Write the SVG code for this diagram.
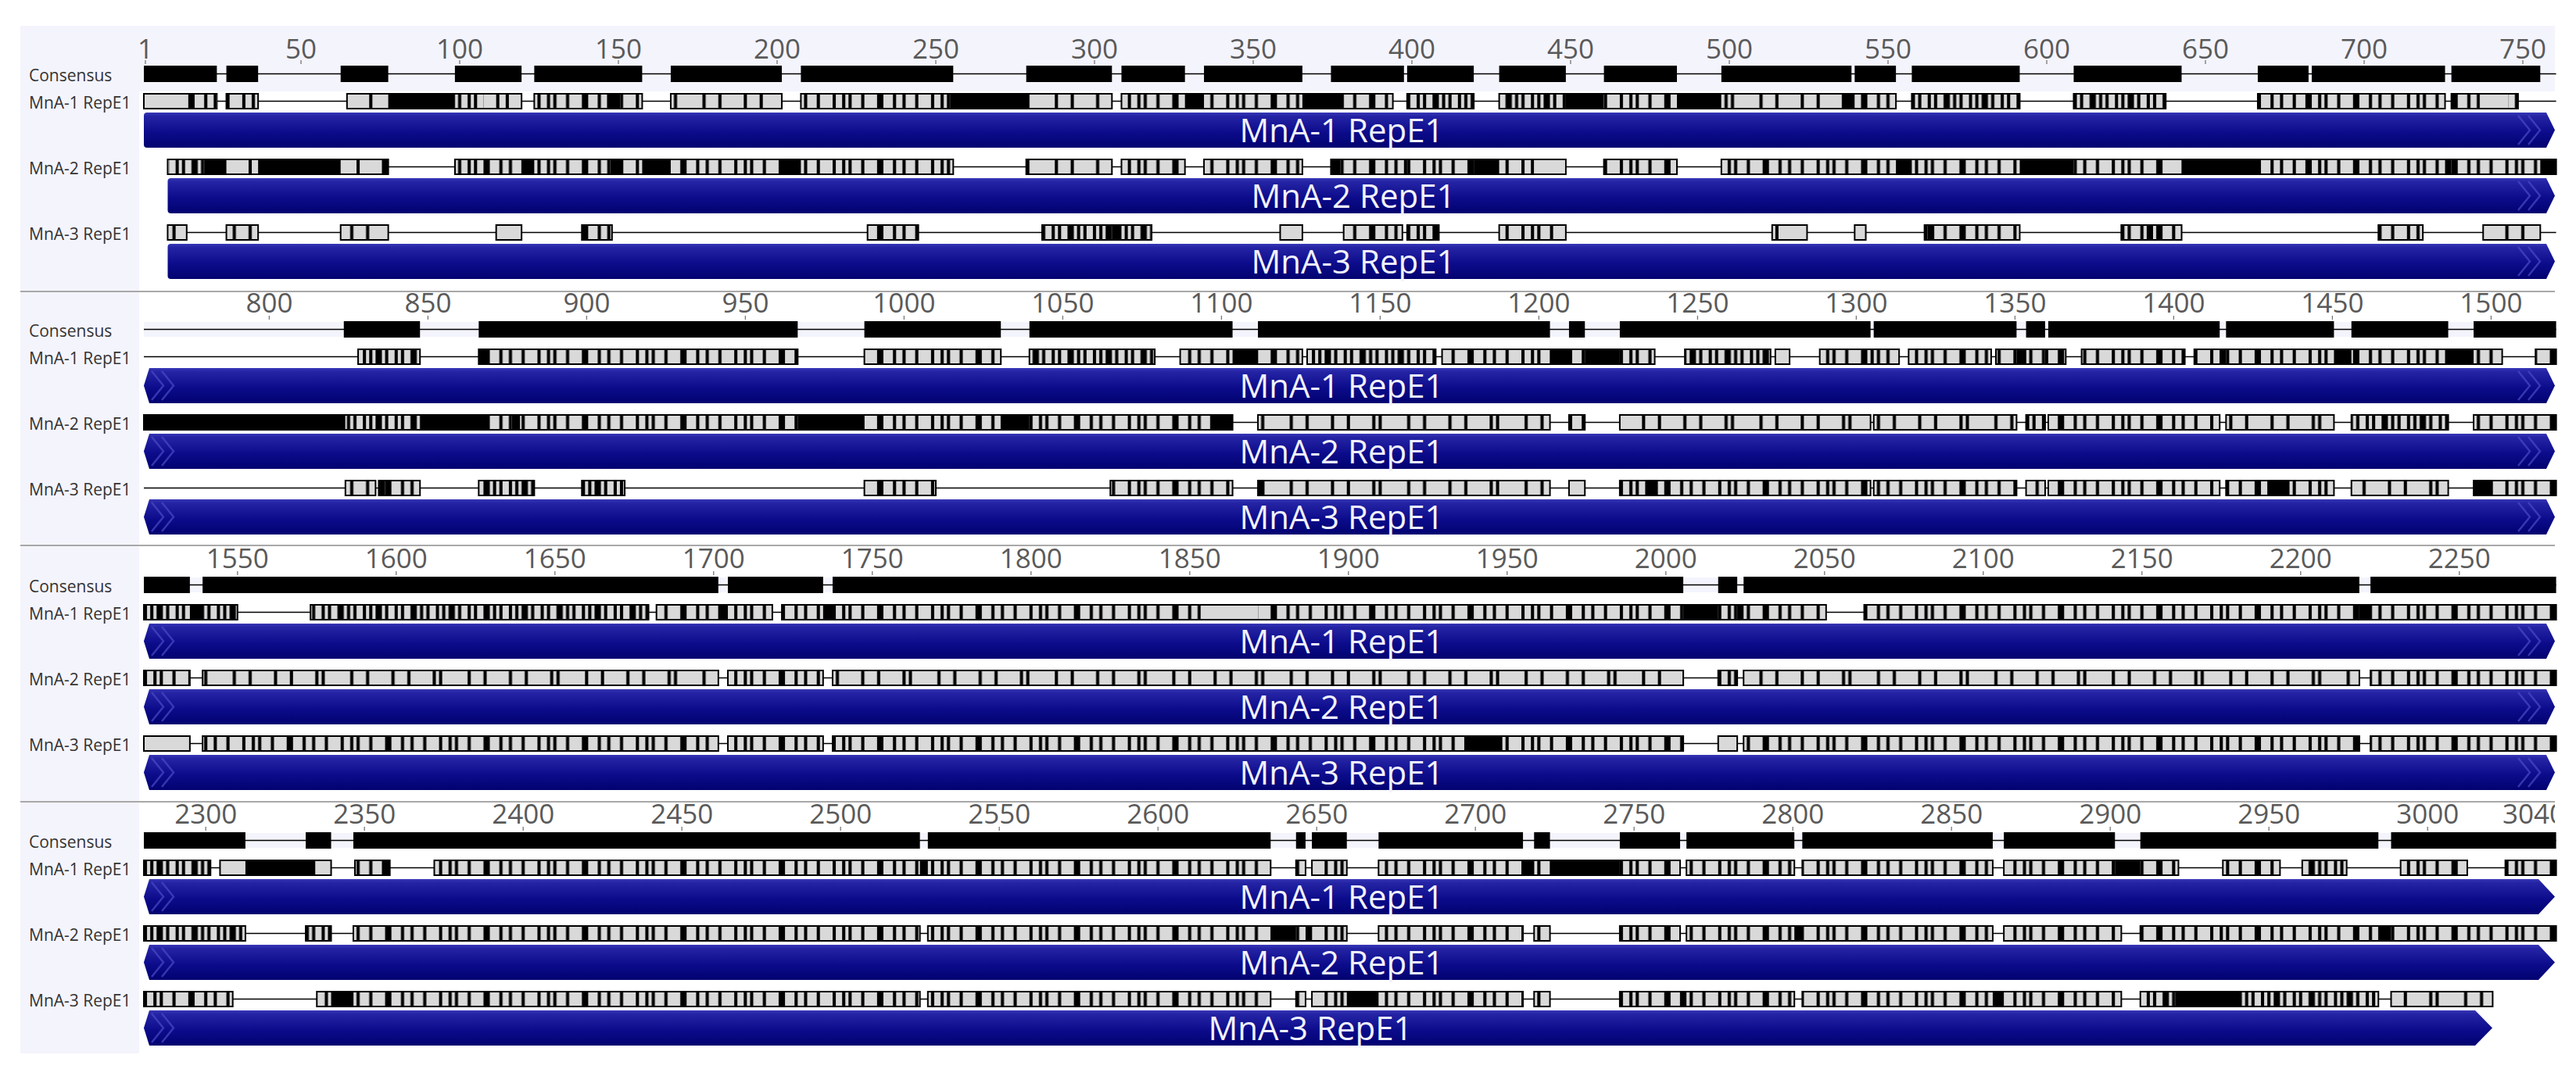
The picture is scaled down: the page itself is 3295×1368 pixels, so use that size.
<svg xmlns="http://www.w3.org/2000/svg" width="3295" height="1368" viewBox="0 0 3295 1368">
<style>
.bx{stroke:#000;stroke-width:2;vector-effect:non-scaling-stroke}
.ln{stroke:#000;stroke-width:1.6;vector-effect:non-scaling-stroke;fill:none}
.k{fill:#000}
.gr{fill:#d9d9d9}
.pl{fill:url(#pl)}
.pm{fill:url(#pm)}
.pd{fill:url(#pd)}
.lab{font-family:"Open Sans","Liberation Sans",sans-serif;font-size:21px;fill:#333}
.num{font-family:"Open Sans","Liberation Sans",sans-serif;font-size:35px;fill:#5a5a5a;text-anchor:middle}
.bl{font-family:"Open Sans","Liberation Sans",sans-serif;font-size:42px;fill:#f2f2ff;text-anchor:middle}
.tk{stroke:#777;stroke-width:1.3}
.chev{fill:none;stroke:#4a4ac8;stroke-width:2.5;opacity:.7}
.sep{stroke:#a8a8a8;stroke-width:2}
.lav{fill:#f4f4fd}
.bar{fill:url(#blue)}
</style>
<defs>
<linearGradient id="blue" x1="0" y1="0" x2="0" y2="1">
<stop offset="0" stop-color="#3838b8"/>
<stop offset="0.1" stop-color="#2424a4"/>
<stop offset="0.55" stop-color="#0c0c8c"/>
<stop offset="1" stop-color="#020270"/>
</linearGradient>
<pattern id="pl" patternUnits="userSpaceOnUse" width="37" height="40">
<rect width="37" height="40" fill="#d9d9d9"/>
<path d="M4 0h1v40h-1zM9 0h1v40h-1zM17 0h1v40h-1zM19 0h1v40h-1zM28 0h1v40h-1zM33 0h1v40h-1z" fill="#000"/>
</pattern>
<pattern id="pm" patternUnits="userSpaceOnUse" width="31" height="40">
<rect width="31" height="40" fill="#d9d9d9"/>
<path d="M0 0h1v40h-1zM3 0h1v40h-1zM5 0h1v40h-1zM9 0h1v40h-1zM14 0h2v40h-2zM19 0h1v40h-1zM22 0h1v40h-1zM26 0h1v40h-1z" fill="#000"/>
</pattern>
<pattern id="pd" patternUnits="userSpaceOnUse" width="23" height="40">
<rect width="23" height="40" fill="#d9d9d9"/>
<path d="M0 0h1v40h-1zM2 0h1v40h-1zM4 0h2v40h-2zM7 0h1v40h-1zM10 0h1v40h-1zM12 0h1v40h-1zM15 0h2v40h-2zM18 0h1v40h-1zM20 0h1v40h-1z" fill="#000"/>
</pattern>
<path id="barA" class="bar" d="M188 0H3257L3268 22.5L3257 45H188Q184 45 184 41V4Q184 0 188 0Z"/>
<path id="barB" class="bar" d="M218.5 0H3257L3268 22.5L3257 45H218.5Q214.5 45 214.5 41V4Q214.5 0 218.5 0Z"/>
<path id="barM" class="bar" d="M191 0H3257L3268 22.5L3257 45H191L184 22.5Z"/>
<path id="barE" class="bar" d="M191 0H3247L3268 22.5L3247 45H191L184 22.5Z"/>
<path id="barE3" class="bar" d="M191 0H3166L3188 22.5L3166 45H191L184 22.5Z"/>
<path id="chR" class="chev" d="M3221 4L3236 22.5L3221 41M3234 4L3249 22.5L3234 41"/>
<path id="chL" class="chev" d="M194 4L209 22.5L194 41M207 4L222 22.5L207 41"/>
<clipPath id="clipR"><rect x="0" y="0" width="3268" height="1368"/></clipPath>
</defs>
<rect width="3295" height="1368" fill="#fff"/>
<rect class="lav" x="26" y="33" width="152" height="1315"/>
<rect class="lav" x="26" y="33" width="3242" height="84"/>
<rect class="lav" x="184" y="412" width="3084" height="19"/>
<rect class="lav" x="184" y="739" width="3084" height="19"/>
<rect class="lav" x="184" y="1066" width="3084" height="19"/>
<g id="separators">
<line class="sep" x1="26" y1="373" x2="3268" y2="373"/>
<line class="sep" x1="26" y1="698" x2="3268" y2="698"/>
<line class="sep" x1="26" y1="1026" x2="3268" y2="1026"/>
</g>
<g id="labels">
<text class="lab" x="37" y="104">Consensus</text>
<text class="lab" x="37" y="139">MnA-1 RepE1</text>
<text class="lab" x="37" y="223">MnA-2 RepE1</text>
<text class="lab" x="37" y="307">MnA-3 RepE1</text>
<text class="lab" x="37" y="431">Consensus</text>
<text class="lab" x="37" y="466">MnA-1 RepE1</text>
<text class="lab" x="37" y="550">MnA-2 RepE1</text>
<text class="lab" x="37" y="634">MnA-3 RepE1</text>
<text class="lab" x="37" y="758">Consensus</text>
<text class="lab" x="37" y="793">MnA-1 RepE1</text>
<text class="lab" x="37" y="877">MnA-2 RepE1</text>
<text class="lab" x="37" y="961">MnA-3 RepE1</text>
<text class="lab" x="37" y="1085">Consensus</text>
<text class="lab" x="37" y="1120">MnA-1 RepE1</text>
<text class="lab" x="37" y="1204">MnA-2 RepE1</text>
<text class="lab" x="37" y="1288">MnA-3 RepE1</text>
</g>
<g id="ruler1">
<text class="num" x="186" y="75">1</text><text class="num" x="385" y="75">50</text><text class="num" x="588" y="75">100</text><text class="num" x="791" y="75">150</text><text class="num" x="994" y="75">200</text><text class="num" x="1197" y="75">250</text><text class="num" x="1400" y="75">300</text><text class="num" x="1603" y="75">350</text><text class="num" x="1806" y="75">400</text><text class="num" x="2009" y="75">450</text><text class="num" x="2212" y="75">500</text><text class="num" x="2415" y="75">550</text><text class="num" x="2618" y="75">600</text><text class="num" x="2821" y="75">650</text><text class="num" x="3024" y="75">700</text><text class="num" x="3227" y="75">750</text>
<path class="tk" d="M186 77v5M385 77v5M588 77v5M791 77v5M994 77v5M1197 77v5M1400 77v5M1603 77v5M1806 77v5M2009 77v5M2212 77v5M2415 77v5M2618 77v5M2821 77v5M3024 77v5M3227 77v5"/>
</g>
<g id="ruler2">
<text class="num" x="344.4" y="400">800</text><text class="num" x="547.4" y="400">850</text><text class="num" x="750.4" y="400">900</text><text class="num" x="953.4" y="400">950</text><text class="num" x="1156.4" y="400">1000</text><text class="num" x="1359.4" y="400">1050</text><text class="num" x="1562.4" y="400">1100</text><text class="num" x="1765.4" y="400">1150</text><text class="num" x="1968.4" y="400">1200</text><text class="num" x="2171.4" y="400">1250</text><text class="num" x="2374.4" y="400">1300</text><text class="num" x="2577.4" y="400">1350</text><text class="num" x="2780.4" y="400">1400</text><text class="num" x="2983.4" y="400">1450</text><text class="num" x="3186.4" y="400">1500</text>
<path class="tk" d="M344.4 404v5M547.4 404v5M750.4 404v5M953.4 404v5M1156.4 404v5M1359.4 404v5M1562.4 404v5M1765.4 404v5M1968.4 404v5M2171.4 404v5M2374.4 404v5M2577.4 404v5M2780.4 404v5M2983.4 404v5M3186.4 404v5"/>
</g>
<g id="ruler3">
<text class="num" x="303.8" y="727">1550</text><text class="num" x="506.8" y="727">1600</text><text class="num" x="709.8" y="727">1650</text><text class="num" x="912.8" y="727">1700</text><text class="num" x="1115.8" y="727">1750</text><text class="num" x="1318.8" y="727">1800</text><text class="num" x="1521.8" y="727">1850</text><text class="num" x="1724.8" y="727">1900</text><text class="num" x="1927.8" y="727">1950</text><text class="num" x="2130.8" y="727">2000</text><text class="num" x="2333.8" y="727">2050</text><text class="num" x="2536.8" y="727">2100</text><text class="num" x="2739.8" y="727">2150</text><text class="num" x="2942.8" y="727">2200</text><text class="num" x="3145.8" y="727">2250</text>
<path class="tk" d="M303.8 731v5M506.8 731v5M709.8 731v5M912.8 731v5M1115.8 731v5M1318.8 731v5M1521.8 731v5M1724.8 731v5M1927.8 731v5M2130.8 731v5M2333.8 731v5M2536.8 731v5M2739.8 731v5M2942.8 731v5M3145.8 731v5"/>
</g>
<g id="ruler4">
<text class="num" x="263.2" y="1054">2300</text><text class="num" x="466.2" y="1054">2350</text><text class="num" x="669.2" y="1054">2400</text><text class="num" x="872.2" y="1054">2450</text><text class="num" x="1075.2" y="1054">2500</text><text class="num" x="1278.2" y="1054">2550</text><text class="num" x="1481.2" y="1054">2600</text><text class="num" x="1684.2" y="1054">2650</text><text class="num" x="1887.2" y="1054">2700</text><text class="num" x="2090.2" y="1054">2750</text><text class="num" x="2293.2" y="1054">2800</text><text class="num" x="2496.2" y="1054">2850</text><text class="num" x="2699.2" y="1054">2900</text><text class="num" x="2902.2" y="1054">2950</text><text class="num" x="3105.2" y="1054">3000</text>
<text class="num" x="3201" y="1054" style="text-anchor:start" clip-path="url(#clipR)">3040</text>
<path class="tk" d="M263.2 1058v5M466.2 1058v5M669.2 1058v5M872.2 1058v5M1075.2 1058v5M1278.2 1058v5M1481.2 1058v5M1684.2 1058v5M1887.2 1058v5M2090.2 1058v5M2293.2 1058v5M2496.2 1058v5M2699.2 1058v5M2902.2 1058v5M3105.2 1058v5"/>
</g>

<g id="s1-consensus" transform="translate(184,84) scale(4.06,1)">
<line class="ln" x1="0" y1="10.5" x2="760" y2="10.5"/>
<path class="k" d="M0 0H23V21H0ZM26 0H36V21H26ZM62 0H77V21H62ZM98 0H119V21H98ZM123 0H157V21H123ZM166 0H201V21H166ZM207 0H255V21H207ZM278 0H305V21H278ZM308 0H328V21H308ZM334 0H365V21H334ZM374 0H397V21H374ZM398 0H419V21H398ZM427 0H448V21H427ZM460 0H483V21H460ZM497 0H538V21H497ZM539 0H552V21H539ZM557 0H591V21H557ZM608 0H642V21H608ZM666 0H682V21H666ZM683 0H725V21H683ZM727 0H755V21H727Z"/>
</g>
<g id="s1-mna1" transform="translate(184,119) scale(4.06,1)">
<line class="ln" x1="0" y1="10.5" x2="760" y2="10.5"/>
<rect class="bx gr" x="0" y="1" width="23" height="19"/><rect class="pm" x="11" y="2" width="12" height="17"/>
<rect class="bx pm" x="26" y="1" width="10" height="19"/>
<rect class="bx gr" x="64" y="1" width="55" height="19"/><rect class="k" x="71" y="0" width="1" height="21"/><rect class="k" x="77" y="0" width="21" height="21"/><rect class="pd" x="98" y="2" width="9" height="17"/><rect class="k" x="111" y="0" width="1" height="21"/><rect class="k" x="114" y="0" width="1" height="21"/>
<rect class="bx pm" x="123" y="1" width="34" height="19"/><rect class="k" x="146" y="0" width="4" height="21"/>
<rect class="bx pl" x="166" y="1" width="35" height="19"/>
<rect class="bx pm" x="207" y="1" width="98" height="19"/><rect class="k" x="254" y="0" width="25" height="21"/><rect class="pl" x="279" y="2" width="25.7" height="17"/>
<rect class="bx pm" x="308" y="1" width="85.5" height="19"/><rect class="k" x="328" y="0" width="6" height="21"/><rect class="k" x="365" y="0" width="13" height="21"/>
<rect class="bx pd" x="398" y="1" width="21" height="19"/>
<rect class="bx pd" x="427" y="1" width="125" height="19"/><rect class="k" x="448" y="0" width="12" height="21"/><rect class="pm" x="460" y="2" width="23" height="17"/><rect class="k" x="483" y="0" width="14" height="21"/><rect class="pl" x="497" y="2" width="38" height="17"/><rect class="k" x="535" y="0" width="4" height="21"/><rect class="pm" x="539" y="2" width="12.7" height="17"/>
<rect class="bx pd" x="557" y="1" width="34" height="19"/>
<rect class="bx pd" x="608" y="1" width="29" height="19"/>
<rect class="bx pm" x="666" y="1" width="59" height="19"/><rect class="k" x="681" y="0" width="2" height="21"/>
<rect class="bx pm" x="727" y="1" width="21" height="19"/><rect class="gr" x="736" y="2" width="9" height="17"/>
</g>
<g id="s1-mna2" transform="translate(184,203) scale(4.06,1)">
<line class="ln" x1="7.5" y1="10.5" x2="760" y2="10.5"/>
<rect class="bx gr" x="7.5" y="1" width="69.5" height="19"/><rect class="pd" x="8" y="2" width="11" height="17"/><rect class="k" x="19" y="0" width="7" height="21"/><rect class="k" x="33" y="0" width="1" height="21"/><rect class="k" x="36" y="0" width="26" height="21"/><rect class="k" x="67" y="0" width="1" height="21"/><rect class="k" x="75" y="0" width="2" height="21"/>
<rect class="bx pm" x="98" y="1" width="157" height="19"/><rect class="pd" x="98.3" y="2" width="8.7" height="17"/><rect class="k" x="119" y="0" width="4" height="21"/><rect class="k" x="147" y="0" width="4" height="21"/><rect class="k" x="157" y="0" width="9" height="21"/><rect class="k" x="201" y="0" width="6" height="21"/>
<rect class="bx pl" x="278" y="1" width="27" height="19"/>
<rect class="bx pm" x="308" y="1" width="20" height="19"/>
<rect class="bx pm" x="334" y="1" width="31" height="19"/>
<rect class="bx pm" x="374" y="1" width="74" height="19"/><rect class="k" x="374" y="0" width="3" height="21"/><rect class="k" x="397" y="0" width="1" height="21"/><rect class="k" x="419" y="0" width="8" height="21"/><rect class="gr" x="438" y="2" width="9.7" height="17"/>
<rect class="bx pm" x="460" y="1" width="23" height="19"/>
<rect class="bx pm" x="497" y="1" width="263" height="19"/><rect class="k" x="552" y="0" width="5" height="21"/><rect class="k" x="591" y="0" width="17" height="21"/><rect class="gr" x="637" y="2" width="5" height="17"/><rect class="k" x="642" y="0" width="24" height="21"/><rect class="k" x="681" y="0" width="2" height="21"/><rect class="k" x="725" y="0" width="2" height="21"/><rect class="k" x="755" y="0" width="5" height="21"/>
</g>
<g id="s1-mna3" transform="translate(184,287) scale(4.06,1)">
<line class="ln" x1="7.5" y1="10.5" x2="760" y2="10.5"/>
<rect class="bx pl" x="7.5" y="1" width="6" height="19"/>
<rect class="bx pl" x="26" y="1" width="10" height="19"/>
<rect class="bx pl" x="62" y="1" width="15" height="19"/>
<rect class="bx gr" x="111" y="1" width="8" height="19"/>
<rect class="bx pm" x="138" y="1" width="9.5" height="19"/>
<rect class="bx pm" x="228" y="1" width="16" height="19"/>
<rect class="bx pd" x="283" y="1" width="34.5" height="19"/><rect class="k" x="305" y="0" width="3" height="21"/>
<rect class="bx gr" x="358" y="1" width="7" height="19"/>
<rect class="bx pm" x="378" y="1" width="18.5" height="19"/>
<rect class="bx pd" x="398" y="1" width="10" height="19"/>
<rect class="bx pm" x="427" y="1" width="21" height="19"/>
<rect class="bx gr" x="513" y="1" width="11" height="19"/><rect class="k" x="514" y="0" width="1" height="21"/>
<rect class="bx gr" x="539" y="1" width="3.5" height="19"/>
<rect class="bx pm" x="561" y="1" width="30" height="19"/><rect class="k" x="562" y="0" width="2" height="21"/>
<rect class="bx pm" x="623" y="1" width="19" height="19"/><rect class="k" x="631" y="0" width="2" height="21"/>
<rect class="bx pm" x="704" y="1" width="14" height="19"/>
<rect class="bx pl" x="737" y="1" width="18" height="19"/>
</g>

<g id="s2-consensus" transform="translate(184,411) scale(4.06,1)">
<line class="ln" x1="0" y1="10.5" x2="760" y2="10.5"/>
<path class="k" d="M63 0H87V21H63ZM105.5 0H206V21H105.5ZM227 0H270V21H227ZM279 0H343V21H279ZM351 0H443V21H351ZM449 0H454V21H449ZM465 0H544V21H465ZM545 0H590V21H545ZM593 0H599V21H593ZM600 0H654V21H600ZM656 0H690V21H656ZM695.5 0H726V21H695.5ZM734 0H760V21H734Z"/>
</g>
<g id="s2-mna1" transform="translate(184,446) scale(4.06,1)">
<line class="ln" x1="0" y1="10.5" x2="760" y2="10.5"/>
<rect class="bx pd" x="67.5" y="1" width="19.5" height="19"/>
<rect class="bx pm" x="105.5" y="1" width="100.5" height="19"/><rect class="k" x="105.5" y="0" width="2.5" height="21"/>
<rect class="bx pm" x="227" y="1" width="43" height="19"/>
<rect class="bx pd" x="279" y="1" width="39.5" height="19"/>
<rect class="bx pm" x="326.5" y="1" width="38.5" height="19"/><rect class="k" x="343" y="0" width="8" height="21"/>
<rect class="bx pd" x="366.5" y="1" width="40.5" height="19"/>
<rect class="bx pm" x="409" y="1" width="67" height="19"/><rect class="k" x="443" y="0" width="6" height="21"/><rect class="k" x="454" y="0" width="11" height="21"/>
<rect class="bx pd" x="485.5" y="1" width="27" height="19"/>
<rect class="bx gr" x="514" y="1" width="4.5" height="19"/>
<rect class="bx pm" x="528" y="1" width="25" height="19"/><rect class="k" x="544" y="0" width="1" height="21"/>
<rect class="bx pm" x="556" y="1" width="26" height="19"/>
<rect class="bx pm" x="583.5" y="1" width="22" height="19"/><rect class="k" x="590" y="0" width="3" height="21"/><rect class="k" x="599" y="0" width="1" height="21"/>
<rect class="bx pm" x="610.5" y="1" width="32.5" height="19"/>
<rect class="bx pm" x="646" y="1" width="97" height="19"/><rect class="k" x="654" y="0" width="2" height="21"/><rect class="k" x="690" y="0" width="5.5" height="21"/><rect class="k" x="725" y="0" width="9" height="21"/>
<rect class="bx pm" x="753.5" y="1" width="6.5" height="19"/>
</g>
<g id="s2-mna2" transform="translate(184,530) scale(4.06,1)">
<line class="ln" x1="0" y1="10.5" x2="760" y2="10.5"/>
<rect class="bx pm" x="0" y="1" width="343" height="19"/><rect class="k" x="0" y="0" width="63.5" height="21"/><rect class="pd" x="63.5" y="2" width="23.5" height="17"/><rect class="k" x="87" y="0" width="21.5" height="21"/><rect class="k" x="116" y="0" width="2.5" height="21"/><rect class="k" x="206" y="0" width="21" height="21"/><rect class="k" x="270" y="0" width="9" height="21"/><rect class="k" x="336" y="0" width="7" height="21"/>
<rect class="bx pl" x="351" y="1" width="92" height="19"/>
<rect class="bx pm" x="449" y="1" width="5" height="19"/>
<rect class="bx pl" x="465" y="1" width="79" height="19"/>
<rect class="bx pl" x="545" y="1" width="45" height="19"/>
<rect class="bx pd" x="593" y="1" width="6" height="19"/>
<rect class="bx pm" x="600" y="1" width="54" height="19"/>
<rect class="bx pl" x="656" y="1" width="34" height="19"/>
<rect class="bx pd" x="695.5" y="1" width="30.5" height="19"/>
<rect class="bx pm" x="734" y="1" width="26" height="19"/>
</g>
<g id="s2-mna3" transform="translate(184,614) scale(4.06,1)">
<line class="ln" x1="0" y1="10.5" x2="760" y2="10.5"/>
<rect class="bx pl" x="63.5" y="1" width="9.5" height="19"/>
<rect class="bx pm" x="74" y="1" width="13" height="19"/><rect class="k" x="74" y="0" width="2" height="21"/>
<rect class="bx pd" x="105.5" y="1" width="17.5" height="19"/>
<rect class="bx pd" x="138" y="1" width="13.5" height="19"/>
<rect class="bx pm" x="227" y="1" width="22.5" height="19"/>
<rect class="bx pm" x="304.5" y="1" width="38.5" height="19"/>
<rect class="bx pl" x="351" y="1" width="92" height="19"/><rect class="k" x="351" y="0" width="2" height="21"/>
<rect class="bx gr" x="449" y="1" width="5" height="19"/>
<rect class="bx pm" x="465" y="1" width="79" height="19"/><rect class="k" x="473" y="0" width="4" height="21"/>
<rect class="bx pm" x="545" y="1" width="45" height="19"/>
<rect class="bx pl" x="593" y="1" width="6" height="19"/>
<rect class="bx pm" x="600" y="1" width="54" height="19"/>
<rect class="bx pm" x="656" y="1" width="34" height="19"/><rect class="k" x="669" y="0" width="7" height="21"/>
<rect class="bx pl" x="695.5" y="1" width="30.5" height="19"/>
<rect class="bx pm" x="734" y="1" width="26" height="19"/><rect class="k" x="734" y="0" width="6" height="21"/>
</g>

<g id="s3-consensus" transform="translate(184,738) scale(4.06,1)">
<line class="ln" x1="0" y1="10.5" x2="760" y2="10.5"/>
<path class="k" d="M0 0H14.5V21H0ZM18.5 0H181V21H18.5ZM184 0H214V21H184ZM217 0H485V21H217ZM496 0H502V21H496ZM504 0H698V21H504ZM701.5 0H760V21H701.5Z"/>
</g>
<g id="s3-mna1" transform="translate(184,773) scale(4.06,1)">
<line class="ln" x1="0" y1="10.5" x2="760" y2="10.5"/>
<rect class="bx pd" x="0" y="1" width="29.5" height="19"/><rect class="k" x="14.5" y="0" width="4" height="21"/>
<rect class="bx pd" x="52.5" y="1" width="106.5" height="19"/>
<rect class="bx pm" x="161.5" y="1" width="36.5" height="19"/><rect class="k" x="181" y="0" width="3" height="21"/>
<rect class="bx pm" x="201" y="1" width="329" height="19"/><rect class="k" x="214" y="0" width="3" height="21"/><rect class="gr" x="333" y="2" width="18" height="17"/><rect class="k" x="485" y="0" width="11" height="21"/><rect class="k" x="502" y="0" width="2" height="21"/>
<rect class="bx pm" x="542" y="1" width="218" height="19"/><rect class="k" x="698" y="0" width="3.5" height="21"/>
</g>
<g id="s3-mna2" transform="translate(184,857) scale(4.06,1)">
<line class="ln" x1="0" y1="10.5" x2="760" y2="10.5"/>
<rect class="bx pm" x="0" y="1" width="14.5" height="19"/>
<rect class="bx pl" x="18.5" y="1" width="162.5" height="19"/>
<rect class="bx pm" x="184" y="1" width="30" height="19"/>
<rect class="bx pl" x="217" y="1" width="268" height="19"/>
<rect class="bx pm" x="496" y="1" width="6" height="19"/>
<rect class="bx pl" x="504" y="1" width="194" height="19"/>
<rect class="bx pm" x="701.5" y="1" width="58.5" height="19"/>
</g>
<g id="s3-mna3" transform="translate(184,941) scale(4.06,1)">
<line class="ln" x1="0" y1="10.5" x2="760" y2="10.5"/>
<rect class="bx gr" x="0" y="1" width="14.5" height="19"/>
<rect class="bx pm" x="18.5" y="1" width="162.5" height="19"/>
<rect class="bx pm" x="184" y="1" width="30" height="19"/>
<rect class="bx pm" x="217" y="1" width="268" height="19"/><rect class="k" x="416" y="0" width="12" height="21"/>
<rect class="bx gr" x="496" y="1" width="6" height="19"/>
<rect class="bx pm" x="504" y="1" width="194" height="19"/>
<rect class="bx pm" x="701.5" y="1" width="58.5" height="19"/>
</g>

<g id="s4-consensus" transform="translate(184,1065) scale(4.06,1)">
<line class="ln" x1="0" y1="10.5" x2="760" y2="10.5"/>
<path class="k" d="M0 0H32V21H0ZM51 0H59V21H51ZM66 0H244.5V21H66ZM247 0H355V21H247ZM363 0H366V21H363ZM368 0H379V21H368ZM389 0H434.5V21H389ZM438 0H443V21H438ZM465 0H484V21H465ZM486 0H520V21H486ZM522.5 0H582.5V21H522.5ZM586 0H621V21H586ZM629 0H704V21H629ZM708 0H760V21H708Z"/>
</g>
<g id="s4-mna1" transform="translate(184,1100) scale(4.06,1)">
<line class="ln" x1="0" y1="10.5" x2="760" y2="10.5"/>
<rect class="bx pd" x="0" y="1" width="21" height="19"/>
<rect class="bx gr" x="24" y="1" width="35" height="19"/><rect class="k" x="32" y="0" width="22" height="21"/>
<rect class="bx pm" x="66.5" y="1" width="11" height="19"/><rect class="k" x="75" y="0" width="2" height="21"/>
<rect class="bx pm" x="91.5" y="1" width="263.5" height="19"/><rect class="k" x="244.5" y="0" width="2.5" height="21"/>
<rect class="bx pm" x="363" y="1" width="3" height="19"/>
<rect class="bx pm" x="368" y="1" width="11" height="19"/>
<rect class="bx pm" x="389" y="1" width="95" height="19"/><rect class="k" x="434.5" y="0" width="3.5" height="21"/><rect class="k" x="443" y="0" width="22" height="21"/>
<rect class="bx pm" x="486" y="1" width="34" height="19"/>
<rect class="bx pm" x="522.5" y="1" width="60" height="19"/>
<rect class="bx pm" x="586" y="1" width="55" height="19"/><rect class="k" x="621" y="0" width="8" height="21"/>
<rect class="bx pm" x="655" y="1" width="18" height="19"/>
<rect class="bx pd" x="680" y="1" width="14" height="19"/>
<rect class="bx pm" x="711" y="1" width="21" height="19"/>
<rect class="bx pm" x="744" y="1" width="16" height="19"/>
</g>
<g id="s4-mna2" transform="translate(184,1184) scale(4.06,1)">
<line class="ln" x1="0" y1="10.5" x2="760" y2="10.5"/>
<rect class="bx pd" x="0" y="1" width="32" height="19"/>
<rect class="bx pd" x="51" y="1" width="8" height="19"/>
<rect class="bx pm" x="66" y="1" width="178.5" height="19"/>
<rect class="bx pm" x="247" y="1" width="132" height="19"/><rect class="k" x="355" y="0" width="8" height="21"/><rect class="k" x="366" y="0" width="2" height="21"/>
<rect class="bx pm" x="389" y="1" width="45.5" height="19"/>
<rect class="bx pm" x="438" y="1" width="5" height="19"/>
<rect class="bx pm" x="465" y="1" width="19" height="19"/>
<rect class="bx pm" x="486" y="1" width="96.5" height="19"/><rect class="k" x="520" y="0" width="2.5" height="21"/>
<rect class="bx pm" x="586" y="1" width="37" height="19"/>
<rect class="bx pm" x="629" y="1" width="131" height="19"/><rect class="k" x="704" y="0" width="4" height="21"/>
</g>
<g id="s4-mna3" transform="translate(184,1268) scale(4.06,1)">
<line class="ln" x1="0" y1="10.5" x2="740" y2="10.5"/>
<rect class="bx pm" x="0" y="1" width="28" height="19"/>
<rect class="bx pm" x="54.5" y="1" width="190" height="19"/><rect class="k" x="59" y="0" width="7" height="21"/>
<rect class="bx pm" x="247" y="1" width="108" height="19"/>
<rect class="bx pm" x="363" y="1" width="3" height="19"/>
<rect class="bx pm" x="368" y="1" width="66.5" height="19"/><rect class="k" x="379" y="0" width="10" height="21"/>
<rect class="bx pm" x="438" y="1" width="5" height="19"/>
<rect class="bx pm" x="465" y="1" width="55" height="19"/><rect class="k" x="484" y="0" width="2" height="21"/>
<rect class="bx pm" x="522.5" y="1" width="100.5" height="19"/><rect class="k" x="582.5" y="0" width="3.5" height="21"/>
<rect class="bx pd" x="629" y="1" width="75" height="19"/><rect class="k" x="640" y="0" width="20" height="21"/>
<rect class="bx pl" x="708" y="1" width="32" height="19"/>
</g>

<g id="bar-s1-1"><use href="#barA" y="144"/><use href="#chR" y="144"/><text class="bl" x="1716" y="182">MnA-1 RepE1</text></g>
<g id="bar-s1-2"><use href="#barB" y="228"/><use href="#chR" y="228"/><text class="bl" x="1731" y="266">MnA-2 RepE1</text></g>
<g id="bar-s1-3"><use href="#barB" y="312"/><use href="#chR" y="312"/><text class="bl" x="1731" y="350">MnA-3 RepE1</text></g>
<g id="bar-s2-1"><use href="#barM" y="471"/><use href="#chL" y="471"/><use href="#chR" y="471"/><text class="bl" x="1716" y="509">MnA-1 RepE1</text></g>
<g id="bar-s2-2"><use href="#barM" y="555"/><use href="#chL" y="555"/><use href="#chR" y="555"/><text class="bl" x="1716" y="593">MnA-2 RepE1</text></g>
<g id="bar-s2-3"><use href="#barM" y="639"/><use href="#chL" y="639"/><use href="#chR" y="639"/><text class="bl" x="1716" y="677">MnA-3 RepE1</text></g>
<g id="bar-s3-1"><use href="#barM" y="798"/><use href="#chL" y="798"/><use href="#chR" y="798"/><text class="bl" x="1716" y="836">MnA-1 RepE1</text></g>
<g id="bar-s3-2"><use href="#barM" y="882"/><use href="#chL" y="882"/><use href="#chR" y="882"/><text class="bl" x="1716" y="920">MnA-2 RepE1</text></g>
<g id="bar-s3-3"><use href="#barM" y="966"/><use href="#chL" y="966"/><use href="#chR" y="966"/><text class="bl" x="1716" y="1004">MnA-3 RepE1</text></g>
<g id="bar-s4-1"><use href="#barE" y="1125"/><use href="#chL" y="1125"/><text class="bl" x="1716" y="1163">MnA-1 RepE1</text></g>
<g id="bar-s4-2"><use href="#barE" y="1209"/><use href="#chL" y="1209"/><text class="bl" x="1716" y="1247">MnA-2 RepE1</text></g>
<g id="bar-s4-3"><use href="#barE3" y="1293"/><use href="#chL" y="1293"/><text class="bl" x="1676" y="1331">MnA-3 RepE1</text></g>
</svg>
